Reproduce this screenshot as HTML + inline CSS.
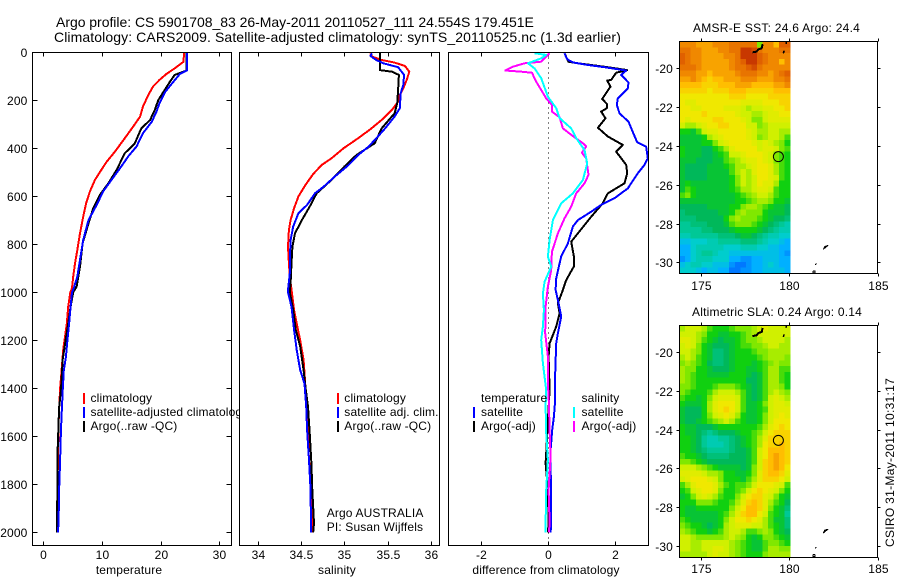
<!DOCTYPE html>
<html lang="en">
<head>
<meta charset="utf-8">
<title>Argo profile</title>
<style>
html,body{margin:0;padding:0;background:#fff;}
svg{display:block;font-family:"Liberation Sans",Arial,sans-serif;font-size:12px;fill:#000;}
text{letter-spacing:.15px;}
</style>
</head>
<body>
<svg id="fig" width="900" height="580" viewBox="0 0 900 580" xmlns="http://www.w3.org/2000/svg">
<rect x="0" y="0" width="900" height="580" fill="#fff"/>
<text x="56" y="27" font-size="14" textLength="478" lengthAdjust="spacing">Argo profile: CS 5901708_83 26-May-2011 20110527_111 24.554S 179.451E</text>
<text x="54" y="42" font-size="14" textLength="567" lengthAdjust="spacing">Climatology: CARS2009. Satellite-adjusted climatology: synTS_20110525.nc (1.3d earlier)</text>

<g id="panel-temp"></g>
<g>
<rect x="83" y="393" width="2" height="11" fill="#f00"/>
<rect x="83" y="407" width="2" height="11" fill="#00f"/>
<rect x="83" y="421" width="2" height="11" fill="#000"/>
<text x="90.5" y="402">climatology</text>
<text x="90.5" y="416">satellite-adjusted climatology</text>
<text x="90.5" y="430">Argo(..raw -QC)</text>
</g>

<g id="panel-sal"></g>
<g>
<rect x="337" y="393" width="2" height="11" fill="#f00"/>
<rect x="337" y="407" width="2" height="11" fill="#00f"/>
<rect x="337" y="421" width="2" height="11" fill="#000"/>
<text x="344.3" y="402">climatology</text>
<text x="344.3" y="416">satellite adj. clim.</text>
<text x="344.3" y="430">Argo(..raw -QC)</text>
<text x="326.7" y="517">Argo AUSTRALIA</text>
<text x="326.7" y="531">PI: Susan Wijffels</text>
</g>

<g id="panel-diff"></g>
<g>
<text x="481" y="402">temperature</text>
<rect x="473" y="407" width="2" height="11" fill="#00f"/>
<rect x="473" y="421" width="2" height="11" fill="#000"/>
<text x="481" y="416">satellite</text>
<text x="481" y="430">Argo(-adj)</text>
<text x="581.5" y="402">salinity</text>
<rect x="573" y="407" width="2" height="11" fill="#0ff"/>
<rect x="573" y="421" width="2" height="11" fill="#f0f"/>
<text x="581.5" y="416">satellite</text>
<text x="581.5" y="430">Argo(-adj)</text>
</g>

<g id="map-sst"></g>
<g id="map-sla"></g>
<text x="693" y="32" textLength="167" lengthAdjust="spacing">AMSR-E SST: 24.6  Argo: 24.4</text>
<text x="692" y="316" textLength="170" lengthAdjust="spacing">Altimetric SLA: 0.24  Argo: 0.14</text>
<text transform="translate(894,547) rotate(-90)" textLength="169" lengthAdjust="spacing">CSIRO 31-May-2011 10:31:17</text>
</svg>

<script>
// ---------- tick labels ----------
const depthTicks = [0,200,400,600,800,1000,1200,1400,1600,1800,2000];
const tempTicks = [0,10,20,30];
const salTicks = [34,34.5,35,35.5,36];
const diffTicks = [-2,0,2];
const lonTicks = [175,180,185];
const latTicks = [-20,-22,-24,-26,-28,-30];

// ---------- temperature profiles ----------
const tempClimDepth = [0,39,67,90,115,143,178,226,268,310,358,414,456,497,532,580,629,685,754,824,880,935,983,1000,1060,1130,1185,1240,1330,1390,1460,1545,1685,1825,2000];
const tempClimValue = [24,23.9,22.4,21,19.8,18.7,17.9,17,16.5,15.3,13.9,12.2,10.8,9.7,8.8,7.95,7.3,6.8,6.25,5.8,5.4,5.1,4.9,4.6,4.25,4,3.7,3.4,3.1,2.9,2.75,2.6,2.5,2.4,2.3];
const tempSatDepth = [0,76,90,122,164,212,247,289,337,392,433,482,532,580,636,699,782,865,935,983,1000,1060,1130,1200,1270,1325,1410,1520,1580,1715,1825,1950,2000];
const tempSatValue = [24.5,24.5,23.3,22.2,20.8,19.8,19.3,18.5,17,15.9,14.5,13.1,11.6,10.2,9.1,7.7,6.8,6.25,5.8,5.2,4.9,4.65,4.4,4.1,3.85,3.5,3.3,3.1,3,2.85,2.7,2.6,2.5];
const tempArgoDepth = [0,76,94,122,164,199,240,282,317,379,421,490,546,594,650,713,796,893,976,1000,1060,1130,1200,1280,1410,1480,1580,1685,1825,2000];
const tempArgoValue = [24.45,24.45,22.4,21.6,20.5,19.6,19,18.2,16.7,15.6,13.9,12.5,11.1,9.65,8.5,7.7,6.7,6.25,5.7,5.1,4.65,4.25,3.8,3.3,3,2.7,2.55,2.4,2.4,2.3];

// ---------- salinity profiles ----------
const salClimDepth = [4,18,32,43,57,81,115,150,178,206,240,282,321,358,400,442,469,507,553,601,649,699,740,810,879,935,976,1018,1074,1130,1200,1282,1393,1546,1685,1824,2000];
const salClimValue = [35.3,35.32,35.43,35.58,35.7,35.75,35.72,35.68,35.64,35.62,35.55,35.43,35.3,35.16,34.99,34.85,34.74,34.64,34.55,34.47,34.42,34.38,34.36,34.35,34.36,34.37,34.385,34.4,34.42,34.45,34.49,34.53,34.55,34.58,34.59,34.62,34.635];
const salSatDepth = [4,15,32,46,62,94,136,171,233,268,317,358,393,428,469,518,560,588,636,671,726,782,865,921,990,1000,1060,1157,1240,1324,1380,1476,1574,1685,1824,2000];
const salSatValue = [35.32,35.3,35.37,35.45,35.62,35.69,35.68,35.65,35.64,35.58,35.47,35.37,35.28,35.16,35.05,34.89,34.76,34.66,34.57,34.47,34.41,34.38,34.37,34.37,34.35,34.35,34.39,34.42,34.45,34.49,34.54,34.56,34.57,34.59,34.61,34.615];
const salArgoDepth = [0,74,81,94,157,212,254,317,379,400,428,476,532,588,643,699,754,810,879,962,1000,1073,1157,1226,1324,1393,1476,1587,1712,1824,1962,2000];
const salArgoValue = [35.41,35.41,35.55,35.63,35.62,35.61,35.58,35.43,35.35,35.26,35.14,35,34.85,34.68,34.6,34.51,34.43,34.4,34.39,34.38,34.37,34.41,34.44,34.49,34.53,34.55,34.58,34.6,34.62,34.63,34.65,34.64];

// ---------- differences from climatology ----------
const diffTempSatDepth = [4,29,42,53,62,76,94,126,150,192,219,254,289,332,374,393,442,469,504,567,608,636,664,699,726,796,851,879,942,990,1032,1101,1171,1213,1337,1448,1518,1574,1657,1740,1824,1962,2000];
const diffTempSatValue = [.5,.58,.75,1.2,1.7,2.35,2.2,2.42,2.4,2.1,2.07,2.15,2.42,2.55,2.68,2.95,3,2.9,2.7,2.4,2,1.6,1.3,.9,.75,.6,.4,.35,.25,.23,.3,.4,.3,.25,.22,.22,.18,.13,.08,.08,.1,.1,.08];
const diffTempArgoDepth = [4,39,46,53,62,74,85,115,118,143,194,215,233,247,275,314,351,386,414,469,504,546,588,629,685,754,789,851,892,949,990,1046,1088,1143,1213,1268,1407,1532,1640,1712,1824,1962,2000];
const diffTempArgoValue = [.5,.62,.9,1.3,1.8,2.38,2.05,1.9,1.78,1.88,1.63,1.77,1.77,1.6,1.73,1.5,1.8,2.25,2.05,2.35,2.38,2.3,1.8,1.65,1.3,.9,.7,.78,.78,.55,.45,.3,.35,.25,.05,.02,.05,0,-.04,-.07,0,.02,0];
const diffSalArgoDepth = [4,39,46,60,76,81,85,122,157,192,219,247,271,317,349,379,393,418,442,511,546,588,643,692,754,832,907,976,1060,1171,1268,1379,1462,1574,1685,1824,1962,2000];
const diffSalArgoValue = [.05,-.2,-.7,-1.05,-1.28,-.8,-.48,-.35,-.2,-.05,.12,.12,.35,.45,.75,1.05,1.15,1.02,1.15,1.22,1.1,.85,.7,.5,.3,.12,.1,0,-.07,-.08,0,0,.03,.05,.08,.02,.05,.03];
const diffSalSatDepth = [4,11,25,46,67,108,185,233,274,317,358,407,463,532,588,629,699,782,851,893,956,1004,1074,1143,1199,1296,1407,1476,1587,1699,1824,1962,2000];
const diffSalSatValue = [-.4,-.05,-.2,-.6,-.4,-.2,0,.25,.35,.7,.85,1.1,1.18,1.05,.75,.4,.15,.05,0,.1,-.1,-.15,-.12,-.15,-.2,-.15,-.05,-.07,-.05,0,-.05,-.07,-.07];

// ---------- satellite fields: colour-scale level per grid cell ----------
const sstLevels = [
[10,10,10,9.5,9.5,9.5,10,10,10,10.5,10.5,10.5,10.5,10.5,6,10,10,9,11,11],
[10.5,10.5,10,10,9.5,9.5,9.5,10,10,10.5,10.5,12,12,11.5,10.5,10,10,10,10.5,10.5],
[11,10.5,10,10,9.5,9.5,9.5,9.5,10,10,10.5,12,12,12,11,10.5,10,10,10,10],
[11,10.5,10,10,9.5,9.5,9.5,9.5,9.5,10,10.5,11,12,12,11,10.5,10,10,9,10],
[10.5,10.5,10.5,10,9.5,9.5,9.5,9.5,9.5,10,10.5,10.5,11,11.5,10.5,10,10,10,10,10],
[10,10,10,9.5,9.5,9,9.5,9.5,9.5,9.5,10,10.5,10.5,10.5,10,10,9.5,10,10.5,11],
[9.5,9.5,10,9.5,9,8.5,9,9,9.5,9.5,9.5,10,10,10,9.5,9.5,9.5,10,10,10.5],
[9,9,9,9,8.5,8.5,8.5,9,9,9,9.5,9.5,9.5,9,9,9,9,9.5,9.5,10],
[8.5,8.5,8.5,8.5,8.5,8,8.5,8.5,8.5,9,9,9,8.5,8.5,8.5,8.5,8.5,9,9,9],
[8,8,8,8,8,8,8,8,8,8.5,8.5,8.5,8,8,8,8,8.5,8.5,8.5,8.5],
[8,7.5,7.5,8,8,8,8,8,8,8,8,7.5,7.5,7.5,7.5,8,8,8,8.5,8.5],
[8,8,7.5,7.5,8,8,8,8,7.5,7.5,7.5,7,6.5,7,7,7.5,7.5,8,8,8.5],
[8,8,8,8,8.5,8,8,8,8,8,7.5,7,7,6.5,6.5,7,7.5,7.5,8,8],
[8,7.5,8,8,8,8,8.5,8.5,8,8,8,7.5,7,6,6,7,7.5,7.5,7.5,7.5],
[7,6.5,6.5,7,7.5,8,8,8.5,8.5,8,8,8,7,7,6,6.5,7,7,7,7],
[5,5,4.5,5.5,7,7.5,7.5,8,8,8,8,8,7.5,7,6.5,6.5,7,7,6.5,6.5],
[4.5,4.5,4.5,4.5,5,6.5,7,7.5,8,8,8,8,7.5,7,6,6.5,7,7,6.5,5.5],
[4.5,4.5,4.5,4.5,5,5,6,7,7.5,8,8,8,8,7.5,7,7.5,7,6.5,6,5],
[5,4.5,4.5,4.5,4,4,5,5.5,6.5,7.5,8,8,8,8,7,7.5,7.5,7,6,5.5],
[5,4.5,4.5,4.5,4,4,4.5,5,5.5,7,7,7.5,8,8,8,7.5,7,6,5.5,5],
[4.5,4.5,4.5,4,4,4,4.5,4.5,5.5,6,6.5,7,7.5,7.5,8,7.5,7,6,5.5,5],
[4.5,4,4,4,4,4.5,4.5,4.5,5,5.5,6.5,6.5,7,7.5,8,8,7.5,6.5,5.5,5],
[4.5,4,4,4,4,4.5,4.5,4.5,4.5,5.5,6.5,7,6.5,7.5,8,8,7.5,6.5,5.5,5],
[4.5,4,4,4,4,4.5,4.5,4.5,4.5,5,6,7,6.5,7,8,8,7.5,7,5.5,5],
[4.5,5,4.5,4.5,4.5,4.5,4.5,4.5,4.5,5,6,7,6.5,7,8,7.5,7.5,6.5,5,5],
[4.5,5.5,5,4.5,4.5,4.5,4.5,4.5,4.5,5,5.5,6.5,6.5,7,7.5,7.5,7,5.5,5,5],
[5.5,6,5,4.5,4.5,4.5,4.5,4.5,4.5,4.5,5,5.5,6,6.5,7,7,6.5,5.5,5,5],
[4.5,4.5,4.5,4.5,4.5,4.5,4.5,4.5,4.5,4.5,5,5,5.5,6,6.5,6.5,6,5,5,4.5],
[4,4,4,4,4,4.5,4.5,4.5,4.5,5,5,6,6.5,6.5,6,5.5,5,4.5,4.5,4],
[3.5,4,4,4,4,4,4,4.5,4.5,5,6,6.5,6,6,6,5,4.5,4.5,4.5,4],
[3.5,3.5,3.5,4,4,4,4,4,5,6,6.5,6,6,6,5.5,5,4.5,4,4,3.5],
[3,3,3.5,3.5,3.5,4,4,4,4.5,5.5,6,6,6,5.5,5,4.5,4,3.5,3,2.5],
[3,3,3,3,3.5,3.5,4,4,4,4.5,5,5,5,5,4.5,4,3.5,3,2.5,2.5],
[2.5,2.5,3,3,3,3,3,3.5,3.5,3.5,4,4.5,4.5,4,3.5,3,2.5,2.5,2,2],
[1.5,1.5,2,2,2,2.5,2.5,3,3,3,3,3.5,3.5,3.5,3,2.5,2,2,1.5,1],
[1,1,2,2.5,2.5,2.5,2.5,2.5,2,2,2,2.5,2.5,2.5,2,2,1.5,1.5,1,1],
[1,1,2,2.5,3,3,2.5,2,2,1.5,1.5,1.5,1.5,1.5,1.5,1.5,1.5,1.5,1,.5],
[.5,1,2,2.5,2.5,2.5,2,2,2,1,1,.5,.5,1,1,1.5,1.5,1.5,1,1],
[1.5,2,2.5,2.5,2,2,1.5,1.5,1.5,.5,0,0,.5,1,1,1.5,2,1.5,1,1],
[2,2,2,1.5,1,1.5,1.5,1,1,0,0,.5,.5,1,1,1.5,1.5,1.5,1.5,1]
];
const slaLevels = [
[6.5,7,7,7,6.5,5.5,5,5,5,5.5,6,6,6,6.5,7,7.5,7,7,7,7],
[7,7,7,6.5,6,5,5,4.5,4.5,5,5,5.5,6,6.5,7,7,7,7,7,7],
[7.5,7.5,7,6.5,5.5,5,4.5,4,4.5,4.5,5,5.5,6,6,6.5,7,7,7,7,6.5],
[7,7.5,7,6,5,4.5,4,4,4,4.5,5,5.5,5.5,6,6,6.5,7,7,6.5,6.5],
[7,7,6.5,6,5,4.5,3.5,3.5,4,4.5,5,5,5,5.5,6,6,6.5,6.5,6.5,6.5],
[6.5,7,6.5,5.5,5,4.5,3.5,3.5,4,4.5,5,5,5,5,5.5,6,6.5,6.5,6.5,6],
[6,6.5,6,5.5,5,4,3.5,3.5,4,4.5,5,5,5,4.5,5,5.5,6,6.5,6,6],
[6.5,6,6,5,5,4.5,4,4,4,4.5,5,5,4.5,4.5,5,5.5,6.5,6.5,5.5,5.5],
[6.5,6,5.5,5,5,4.5,4.5,4.5,4.5,5,5,5,4.5,4,4.5,5.5,6.5,6.5,5.5,5],
[6.5,6,5.5,5,5,5,5,5,5,5,5,5,4,4,4.5,5.5,6.5,6.5,5.5,5],
[6,6,5.5,5,5,5,5.5,6,6,6,5.5,5,4.5,4,4.5,5.5,6.5,6.5,6,5],
[6,5.5,5,5,5,5.5,6.5,7,7,7,6.5,5.5,4.5,4,4.5,5.5,6.5,7,6.5,6],
[5.5,5,5,4.5,5,6,7,7.5,7.5,7.5,7,5.5,4.5,4,4.5,5.5,7,7.5,7,6.5],
[5,4.5,4.5,4.5,5,6.5,7.5,8,8,8,7,5.5,4.5,4.5,5,6,7,7.5,7.5,7],
[4.5,4,4,4,5,6.5,7.5,8,8.5,8,7,5.5,4.5,4.5,5,5.5,7,7.5,7.5,7.5],
[4.5,4,4,4,5,6,7,7.5,8,7.5,6.5,5,4.5,4.5,5,6,7,7.5,8,7.5],
[4.5,4,4,4.5,5,5.5,6,6.5,7,6.5,5.5,5,4.5,4.5,5,6,7,8,8,8],
[5,4.5,4.5,4,4,4,4.5,5,5,5,5,5,5,5,5.5,6.5,7.5,8,8.5,8],
[5,4.5,4.5,4,3.5,3,3.5,4,4,4,4.5,5,5,5.5,6,7,8,8.5,8.5,8.5],
[5,5,4.5,4,3,2.5,2.5,3,3,3.5,4,4.5,5,5.5,6.5,7.5,8.5,8.5,8.5,8.5],
[5,5,4.5,4,3,2.5,2.5,2.5,3,3.5,4,4.5,5,5.5,6.5,8,8.5,8.5,9,8.5],
[5,5,4.5,4,3.5,3,3,3,3,3.5,4,4,4.5,5.5,7,8,9,9,9,8.5],
[5.5,5,5,4.5,4,3.5,3.5,3.5,3.5,4,4,4,4.5,5.5,7,8,9,9.5,9,8.5],
[6,6,5.5,5,4.5,4,4,4,4,4,4,4,4.5,5.5,7,8.5,9,9.5,9,8.5],
[7,7,7,6.5,6,5.5,5,4.5,4.5,4.5,4.5,4,4.5,6,7,8.5,9,9.5,9,8],
[7.5,7.5,7.5,7.5,7,6.5,6.5,6,5,5,4.5,4.5,5,6,7.5,8.5,9,9,8.5,7.5],
[7,7.5,8,8,8,7.5,7,6,5,5,5,4.5,5.5,6.5,7.5,8.5,8.5,8.5,8,7],
[5.5,6.5,7.5,8,8,8,7.5,6.5,5.5,5,5.5,5.5,6,7,8,8,8,7.5,7,5.5],
[5,5.5,7,7.5,8,8,7.5,6,5,5,5.5,6,7,8,8.5,8,7.5,7,6,5],
[4.5,5,6,7,7.5,7,6.5,5.5,5,5,6,7,8,8.5,8.5,7.5,7,6,5,4.5],
[5,5,5,6,6,6,5.5,5,5,5.5,6.5,7.5,8.5,9,8.5,7.5,6.5,5.5,5,4],
[5,4.5,4.5,5,5,5,5,5,5,6,7,8,9,9,8.5,7.5,6,5,4.5,3.5],
[5,4.5,4.5,4.5,4.5,4.5,4.5,5,5.5,6.5,7.5,8.5,9,9,8,7,5.5,5,4.5,3],
[5.5,5,4.5,4.5,4.5,4.5,4.5,5,6,7,8,8,8.5,8,7.5,6.5,5.5,4.5,4.5,3.5],
[6,5.5,5,5,4.5,4,4.5,5,6.5,7,7.5,7.5,7.5,7,7,6.5,5.5,5,4.5,3.5],
[6.5,6,5.5,5,5,4.5,5,5.5,6.5,7,7,6.5,5.5,5.5,6,6.5,6,5,4.5,4],
[7,7,6.5,6,6,6,6,6,6.5,7,6.5,6,5,4.5,5,6,6,5.5,5,4.5],
[7,7,6.5,6.5,7,7,7,7,7,6.5,6,5.5,5,4.5,4.5,5.5,6,6,5.5,5],
[7,7,6.5,6.5,7,7,7.5,7.5,7,6.5,6,5.5,5,4.5,4.5,5.5,6.5,6.5,6,6],
[6.5,6.5,6.5,6.5,6.5,7,7.5,7,7,6.5,6,5.5,5,5,5,6,6.5,6.5,6.5,6.5]
];

// ---------- coastlines and float position ----------
const coastALon = [177.93,178.17,178.27,178.46,178.51];
const coastALat = [-19.18,-19.14,-19.02,-18.97,-18.76];
const coastBLon = [179.68,179.73];
const coastBLat = [-19.23,-19.09];
const coastCLon = [179.83,179.85];
const coastCLat = [-18.63,-18.75];
const coastDLon = [181.94,182.19,182.02,181.94];
const coastDLat = [-29.33,-29.14,-29.18,-29.33];
const coastELon = [181.48,181.55];
const coastELat = [-30.13,-30.05];
const coastFLon = [181.36,181.46,181.46,181.36,181.36];
const coastFLat = [-30.44,-30.44,-30.55,-30.55,-30.44];
const floatLon = [179.4];
const floatLat = [-24.554];

// ---------- helpers ----------
const NS = 'http://www.w3.org/2000/svg';
function linear(d0,d1,r0,r1){ return v => r0 + (v-d0)*(r1-r0)/(d1-d0); }
function make(parent,tag){
  const el = document.createElementNS(NS,tag);
  parent.appendChild(el);
  return el;
}
function line(parent,x1,y1,x2,y2,name){
  const el = make(parent,'line');
  
  
  el.setAttribute('x1',x1);el.setAttribute('y1',y1);el.setAttribute('x2',x2);el.setAttribute('y2',y2);
  el.setAttribute('stroke','#000');
  el.setAttribute('stroke-width','1');
  el.setAttribute('shape-rendering','crispEdges');
  return el;
}
function label(parent,x,y,anchor,str,name){
  const el = make(parent,'text');
  
  
  el.setAttribute('x',x);el.setAttribute('y',y);
  el.setAttribute('text-anchor',anchor);
  el.textContent = str;
  return el;
}
function frame(parent,L,T,R,B,name){
  const el = make(parent,'rect');
  
  
  el.setAttribute('x',L);el.setAttribute('y',T);
  el.setAttribute('width',R-L);el.setAttribute('height',B-T);
  el.setAttribute('fill','none');
  el.setAttribute('stroke','#000');
  el.setAttribute('shape-rendering','crispEdges');
  return el;
}
function background(parent,L,T,R,B){
  const el = make(parent,'rect');
  
  
  el.setAttribute('x',L);el.setAttribute('y',T);
  el.setAttribute('width',R-L);el.setAttribute('height',B-T);
  el.setAttribute('fill','#fff');
}
function series(parent,xs,ys,sx,sy,color,width,name){
  const el = make(parent,'polyline');
  
  
  el.setAttribute('points',xs.map((v,i)=>sx(v).toFixed(1)+','+sy(ys[i]).toFixed(1)).join(' '));
  el.setAttribute('fill','none');
  el.setAttribute('stroke',color);
  el.setAttribute('stroke-width',width);
  el.setAttribute('stroke-linejoin','round');
  el.setAttribute('shape-rendering','crispEdges');
  return el;
}

// ---------- profile panels ----------
const TOP = 52.5, BOT = 545.5;
const depthY = linear(0,2000,52.3,532.3);

function panelBase(g,L,R,sx,ticks,xlabel,labelX,axisName){
  background(g,L,TOP,R,BOT);
  ticks.forEach(t=>{
    const x = Math.round(sx(t))+.5;
    line(g,x,TOP,x,TOP+4,axisName+'-top-tick');
    line(g,x,BOT,x,BOT-4,axisName+'-bottom-tick');
    label(g,x,559,'middle',String(t),axisName+'-tick-label');
  });
  label(g,labelX,574,'middle',xlabel,axisName+'-title');
}

// temperature
const gT = document.getElementById('panel-temp');
const tempX = linear(0,30,43.3,219.3);
panelBase(gT,32.5,231.5,tempX,tempTicks,'temperature',129,'temperature-axis');
depthTicks.forEach(d=>{
  const y = Math.round(depthY(d))+.5;
  line(gT,32.5,y,37.5,y,'depth-left-tick');
  line(gT,231.5,y,226.5,y,'depth-right-tick');
  label(gT,27.5,y+4.5,'end',String(d),'depth-tick-label');
});
series(gT,tempClimValue,tempClimDepth,tempX,depthY,'#f00',2,'temperature-climatology-line');
series(gT,tempArgoValue,tempArgoDepth,tempX,depthY,'#000',2,'temperature-argo-line');
series(gT,tempSatValue,tempSatDepth,tempX,depthY,'#00f',2,'temperature-satellite-line');
frame(gT,32.5,TOP,231.5,BOT,'temperature-axes-frame');

// salinity
const gS = document.getElementById('panel-sal');
const salX = linear(34,36,257.7,431);
panelBase(gS,239.5,439.5,salX,salTicks,'salinity',337,'salinity-axis');
series(gS,salClimValue,salClimDepth,salX,depthY,'#f00',2,'salinity-climatology-line');
series(gS,salArgoValue,salArgoDepth,salX,depthY,'#000',2,'salinity-argo-line');
series(gS,salSatValue,salSatDepth,salX,depthY,'#00f',2,'salinity-satellite-line');
frame(gS,239.5,TOP,439.5,BOT,'salinity-axes-frame');

// difference
const gD = document.getElementById('panel-diff');
const diffX = linear(-2,2,481.3,614.5);
panelBase(gD,448.5,648.5,diffX,diffTicks,'difference from climatology',546,'difference-axis');
const zero = line(gD,Math.round(diffX(0))+.5,TOP,Math.round(diffX(0))+.5,BOT,'zero-reference-line');
zero.setAttribute('stroke-dasharray','1 4');
series(gD,diffTempArgoValue,diffTempArgoDepth,diffX,depthY,'#000',2,'difference-temperature-argo-line');
series(gD,diffTempSatValue,diffTempSatDepth,diffX,depthY,'#00f',2,'difference-temperature-satellite-line');
series(gD,diffSalArgoValue,diffSalArgoDepth,diffX,depthY,'#f0f',2,'difference-salinity-argo-line');
series(gD,diffSalSatValue,diffSalSatDepth,diffX,depthY,'#0ff',2,'difference-salinity-satellite-line');
frame(gD,448.5,TOP,648.5,BOT,'difference-axes-frame');

// ---------- maps ----------
const colorStops = [
 [0,0,120,255],[1,0,176,255],[2,0,205,205],[3,0,200,150],[4,0,184,90],[5,16,208,16],
 [6,128,232,0],[7,208,240,0],[8,240,232,0],[9,255,190,0],[10,240,136,0],[11,224,96,0],[12,200,56,0]
];
function levelColor(v){
  const i = Math.max(0,Math.min(colorStops.length-2,Math.floor(v)));
  const f = v - colorStops[i][0];
  const a = colorStops[i], b = colorStops[i+1];
  const c = [1,2,3].map(k=>Math.round(a[k]+(b[k]-a[k])*f));
  return 'rgb('+c.join(',')+')';
}
function drawMap(id,levels,T,B,lat20,lat30,labelY,prefix){
  const g = document.getElementById(id);
  const L = 679.5, R = 877.5;
  const lonX = linear(175,185,700.5,877.5);
  const latY = linear(-20,-30,lat20,lat30);
  const gridR = 790;
  const nRow = levels.length, nCol = levels[0].length;
  const cw = (gridR-L)/nCol, ch = (B-T)/nRow;
  levels.forEach((row,j)=>{
    row.forEach((v,i)=>{
      const c = make(g,'rect');
      
      
      c.setAttribute('x',(L+i*cw).toFixed(2));
      c.setAttribute('y',(T+j*ch).toFixed(2));
      c.setAttribute('width',(cw+.3).toFixed(2));
      c.setAttribute('height',(ch+.3).toFixed(2));
      c.setAttribute('fill',levelColor(v));
      c.setAttribute('shape-rendering','crispEdges');
    });
  });
  const coast = [[coastALon,coastALat,2],[coastBLon,coastBLat,1.5],[coastCLon,coastCLat,1.5],[coastDLon,coastDLat,1],[coastELon,coastELat,1],[coastFLon,coastFLat,1]];
  coast.forEach(cs=>{
    series(g,cs[0],cs[1],lonX,latY,'#000',cs[2],prefix+'-coastline');
  });
  const dot = make(g,'circle');
  
  
  dot.setAttribute('cx',lonX(floatLon[0]));
  dot.setAttribute('cy',latY(floatLat[0]));
  dot.setAttribute('r','5');
  dot.setAttribute('fill','none');
  dot.setAttribute('stroke','#000');
  frame(g,L,T,R,B,prefix+'-axes-frame');
  lonTicks.forEach(t=>{
    const x = Math.round(lonX(t))+.5;
    line(g,x,T,x,T-3,prefix+'-top-tick');
    line(g,x,B,x,B+3,prefix+'-bottom-tick');
    label(g,x,labelY,'middle',String(t),prefix+'-longitude-label');
  });
  latTicks.forEach(t=>{
    const y = Math.round(latY(t))+.5;
    line(g,L,y,L-3,y,prefix+'-left-tick');
    line(g,R,y,R+3,y,prefix+'-right-tick');
    label(g,673,y+4.5,'end',String(t),prefix+'-latitude-label');
  });
}
drawMap('map-sst',sstLevels,41.5,273.5,68.3,262.3,290,'sst-map');
drawMap('map-sla',slaLevels,325.5,557.5,352,546,573,'sla-map');
</script>
</body>
</html>
